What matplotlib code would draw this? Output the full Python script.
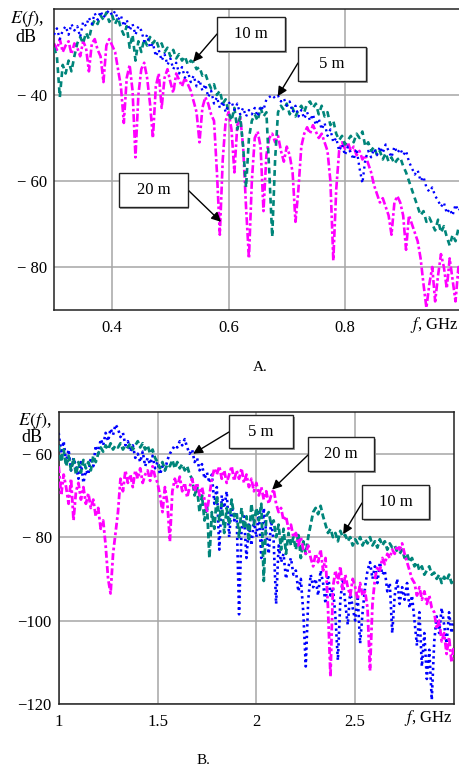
import numpy as np
import matplotlib
matplotlib.use("Agg")
import matplotlib.pyplot as plt
from matplotlib.patches import Rectangle

plt.rcParams['font.family'] = ['Liberation Serif', 'DejaVu Serif']
plt.rcParams['mathtext.fontset'] = 'stix'

W, H = 459, 767

# ---------------- data: panel A (0.3 .. 1.0 GHz) ----------------
F_TOP = (0.3, 1.0)
top_5m = [
    -26, -24.5, -27, -25, -24, -26, -23.5, -25, -24, -26.5,
    -23, -24, -22, -23.5, -21, -22.5, -20.5, -22, -21, -20.3,
    -21.5, -20.5, -22.5, -21.5, -24, -22.5, -25, -23.5, -26, -24,
    -25, -27.5, -26, -29, -28, -31, -29.5, -32, -30.5, -33,
    -31.5, -34, -32.5, -35, -33.5, -36, -34.5, -37, -35.5, -38,
    -36.5, -39, -37.5, -40.5, -39, -42, -40.5, -43, -41.5, -44,
    -42, -41.5, -43.5, -42, -44.5, -43, -45, -43.5, -44.5, -43,
    -45, -42.5, -43.5, -41, -40.5, -40, -40.8, -40.2, -41.5, -40.8,
    -42.5, -41.5, -44, -42.5, -45, -43.5, -45.5, -44, -46, -44.5,
    -47, -45.5, -48, -46.5, -49.5, -48, -51, -50, -53, -51.5,
    -54, -52, -53.5, -55, -52.5, -57, -60.5, -55, -53, -54.5,
    -52.5, -54, -52, -53.5, -51.5, -53, -54.5, -52, -53.5, -52.5,
    -54, -53, -55.5, -57, -58.5, -57.5, -60, -59, -61.5, -62.5,
    -61.5, -63.5, -64.5, -66, -65, -67.5, -66.5, -68, -65.5, -67,
    -66]
top_10m = [
    -29, -31, -40.5, -33, -35, -32, -34.5, -31, -28, -26.5,
    -28, -25.5, -27, -24, -22.5, -23.5, -21.5, -22.5, -20.8, -23,
    -21.5, -23.5, -22, -24.5, -26, -24, -29, -26, -32, -27.5,
    -30, -27, -28.5, -26.5, -28, -27, -29, -28, -30, -29,
    -31, -29.5, -31.5, -30.5, -32, -31, -33, -32, -32.5, -34,
    -33.5, -35.5, -35, -37, -38.5, -37.5, -40, -39, -42, -41,
    -44, -46, -43, -48, -45, -52, -61.5, -50, -46, -44.5,
    -46, -43, -45, -44, -58, -73, -55, -44, -42.5, -43.5,
    -42, -44.5, -43, -45, -43.5, -42.5, -44, -42, -41.5, -43,
    -42, -44.5, -42.5, -45, -44, -47, -46, -49, -50.5, -49.5,
    -51.5, -50.5, -49.5, -51, -49, -50, -48.5, -52, -51, -53,
    -52, -54, -53, -55, -53.5, -55.5, -54.5, -56, -55, -54.5,
    -56.5, -58, -60, -62, -64, -66, -68, -67, -69.5, -68.5,
    -70, -71.5, -69, -72, -70.5, -73, -75, -72.5, -74, -71,
    -73]
top_20m = [
    -28, -29.5, -27, -30, -28.5, -27.5, -30.5, -28, -29, -31,
    -27.5, -29, -34.5, -28, -27, -29.5, -31, -37, -28.5, -27,
    -28.5, -30, -34, -38, -46.5, -36, -33, -39, -54.5, -40,
    -34, -32.5, -36, -42, -50, -38, -35, -43, -36, -34,
    -37, -39.5, -35, -36.5, -38, -36, -37.5, -39, -41.5, -44,
    -51, -43, -40.5, -42, -44.5, -46, -58, -72.5, -55, -46,
    -44, -48, -58, -47, -45, -52, -66, -78, -60, -50,
    -48.5, -52, -67, -54, -50, -49, -51, -49.5, -53, -55.5,
    -52, -54, -58, -69.5, -62, -52, -49, -47.5, -49, -47,
    -48.5, -50, -49, -51, -53, -60, -78.5, -62, -53, -51,
    -52.5, -51, -53, -52, -54, -53, -55, -54, -56, -58,
    -61, -63, -65, -64, -66, -68, -72.5, -65, -63.5, -65,
    -68, -76, -68, -70, -72, -74, -78, -84, -89.5, -84,
    -80, -88, -82, -77, -80, -85, -78, -83, -88, -80,
    -85]

# ---------------- data: panel B (1 .. 3 GHz) ----------------
F_BOT = (1.0, 3.0)
bot_5m = [
    -55, -60, -57, -62, -59, -64, -61, -63,
    -66, -62, -67, -64, -65, -61, -63, -58,
    -60, -56.5, -58, -55, -57, -54, -55.5, -53,
    -54, -56, -55, -58, -57, -59.5, -58, -61,
    -60, -62, -59.5, -63, -61, -62.5, -60.5, -63.5,
    -62, -65, -63, -64, -61.5, -60, -59, -58,
    -58.5, -57, -58, -56.5, -58.5, -60, -59, -62,
    -61, -64, -62.5, -66, -64.5, -67, -65, -72,
    -68, -83, -70, -73, -69, -80, -72, -76,
    -74, -98.5, -78, -75, -85, -77, -82, -76,
    -80, -74, -85, -73, -79, -84, -76, -81,
    -96, -82, -86, -84, -90, -87, -85, -89,
    -88, -93, -90, -98, -111, -95, -89, -92,
    -90, -94, -88, -91, -96, -89, -94, -92,
    -99, -109.5, -95, -90, -96, -101, -93, -97,
    -100, -94, -105.5, -98, -92, -88, -86, -90,
    -87, -91, -86, -89, -88, -93, -91, -103,
    -94, -90, -96, -92, -95, -91, -97, -94,
    -100, -106, -98, -111, -103, -114, -107, -119,
    -105, -99, -103, -97, -101, -105.5, -98, -103,
    -100]
bot_10m = [
    -58, -62, -59, -63, -60.5, -64, -61, -65,
    -62, -64.5, -61.5, -63.5, -62, -64, -60.5, -62,
    -60, -58.5, -59.5, -58, -59, -57.5, -59, -58,
    -58.5, -57.5, -59, -58, -58.5, -57.5, -59, -58,
    -57, -58.5, -57.5, -59, -58, -60, -59, -61,
    -62, -63.5, -62, -64, -62.5, -63, -61.5, -63.5,
    -62, -63.5, -62.5, -64, -63, -65, -66, -70,
    -68, -74, -70, -76, -72, -85, -74, -78,
    -70, -76, -72, -79, -73, -77, -71, -75,
    -74, -80, -73, -78, -75, -81, -72, -77,
    -73, -76, -72, -90.5, -75, -74, -77, -76,
    -80, -77, -83, -78, -84, -79, -82, -80,
    -83, -79, -85, -81, -84, -80, -77, -74,
    -73, -74.5, -72.5, -75, -77, -79, -78, -80,
    -79, -81, -78.5, -80, -79.5, -81, -80, -82,
    -80.5, -81.5, -80, -82, -80.5, -81.5, -80, -82,
    -81, -82.5, -80.5, -82, -81, -83, -81.5, -82.5,
    -82, -83.5, -84, -83, -85, -84, -86, -85,
    -87, -86, -88, -87, -89, -88, -87, -89,
    -88.5, -90, -89, -91, -89.5, -90.5, -89, -91,
    -90]
bot_20m = [
    -63, -70, -65, -68, -72, -66, -76, -69,
    -67, -71, -68, -72, -69.5, -73, -71, -75,
    -73, -78, -76, -82, -90, -93.5, -84, -79,
    -74, -66, -69, -64, -67, -65, -68, -64,
    -66, -63.5, -67, -65, -64, -66.5, -63, -65.5,
    -67, -70, -74, -68, -72, -81, -69, -66,
    -68, -65.5, -69, -67, -70.5, -68, -66, -69,
    -67, -70, -68, -71, -74, -70, -66, -63.5,
    -65, -63, -66, -64, -67, -65, -63, -66.5,
    -64, -66, -63.5, -67, -65, -68, -66, -69,
    -67, -70, -68, -71, -69, -72, -70, -68.5,
    -72, -74, -73, -76, -75, -78, -77, -80,
    -79, -82, -80, -83, -84, -82, -85, -87,
    -84, -86, -83, -88, -85, -97, -113.5, -92,
    -88, -91, -87, -93, -89, -92, -94, -90,
    -92, -95, -91, -94, -93, -97, -112, -96,
    -90, -87, -88, -85, -86.5, -84, -85, -83,
    -84, -82, -83, -81.5, -84, -86, -88, -90,
    -91, -94, -92, -95, -93, -96, -94, -97,
    -98, -102, -100, -105, -103, -108, -104, -110,
    -106]

top_xticks = [0.4, 0.6, 0.8]
top_xticklabels = ['0.4', '0.6', '0.8']
top_yticks = [-80, -60, -40]
top_yticklabels = ['\u2212 80', '\u2212 60', '\u2212 40']
bot_xticks = [1, 1.5, 2, 2.5]
bot_xticklabels = ['1', '1.5', '2', '2.5']
bot_yticks = [-120, -100, -80, -60]
bot_yticklabels = ['\u2212120', '\u2212100', '\u2212 80', '\u2212 60']

C_BLUE = '#0000ff'
C_TEAL = '#00857a'
C_MAG = '#ff00ff'


def fx(px):
    return px / W


def fy(py):
    return 1 - py / H


fig = plt.figure(figsize=(W / 100, H / 100), dpi=100)
ax1 = fig.add_axes([fx(54), fy(310), (459 - 54) / W, (310 - 9) / H])
ax2 = fig.add_axes([fx(58.7), fy(704), (454 - 58.7) / W, (704 - 412) / H])


def style_axes(ax, xlim, ylim, xt, xtl, yt, ytl, right_spine=True):
    ax.set_xlim(*xlim)
    ax.set_ylim(*ylim)
    ax.set_xticks(xt)
    ax.set_xticklabels(xtl)
    ax.set_yticks(yt)
    ax.set_yticklabels(ytl)
    ax.tick_params(length=0, labelsize=12, pad=5)
    ax.tick_params(axis='x', pad=7)
    ax.grid(True, color='#a6a6a6', lw=1.1)
    ax.set_axisbelow(True)
    for s in ax.spines.values():
        s.set_color('#222222')
        s.set_linewidth(1.1)
    if not right_spine:
        ax.spines['right'].set_visible(False)


# panel A
x_top5 = np.linspace(F_TOP[0], F_TOP[1], len(top_5m))
x_top10 = np.linspace(F_TOP[0], F_TOP[1], len(top_10m))
x_top20 = np.linspace(F_TOP[0], F_TOP[1], len(top_20m))
ax1.plot(x_top20, top_20m, color=C_MAG, lw=1.9, dashes=(3, 1, 1, 1), zorder=2)
ax1.plot(x_top10, top_10m, color=C_TEAL, lw=1.9, dashes=(2.2, 1.6), zorder=3)
ax1.plot(x_top5, top_5m, color=C_BLUE, lw=1.7, dashes=(0.9, 1.6), zorder=4)
style_axes(ax1, (0.3, 0.996), (-90, -20), top_xticks, top_xticklabels,
           top_yticks, top_yticklabels, right_spine=False)

# panel B
x_bot5 = np.linspace(F_BOT[0], F_BOT[1], len(bot_5m))
x_bot10 = np.linspace(F_BOT[0], F_BOT[1], len(bot_10m))
x_bot20 = np.linspace(F_BOT[0], F_BOT[1], len(bot_20m))
ax2.plot(x_bot5, bot_5m, color=C_BLUE, lw=1.9, dashes=(0.9, 1.3), zorder=2)
ax2.plot(x_bot10, bot_10m, color=C_TEAL, lw=2.0, dashes=(2.2, 1.2), zorder=3)
ax2.plot(x_bot20, bot_20m, color=C_MAG, lw=2.0, dashes=(2.5, 1, 1, 1), zorder=4)
style_axes(ax2, (1.0, 3.0), (-120, -50), bot_xticks, bot_xticklabels,
           bot_yticks, bot_yticklabels)

# axis titles
for (ex, ey, dx, dy) in [(27, 19, 26, 38), (35, 421, 32, 438)]:
    fig.text(fx(ex), fy(ey), '$E(f)$,', fontsize=13, ha='center', va='center')
    fig.text(fx(dx), fy(dy), 'dB', fontsize=13, ha='center', va='center')
fig.text(fx(434), fy(325), '$f$, GHz', fontsize=12, ha='center', va='center')
fig.text(fx(428), fy(718), '$f$, GHz', fontsize=12, ha='center', va='center')

fig.text(fx(260), fy(368), 'A.', fontsize=11, ha='center', va='center')
fig.text(fx(203), fy(761), 'B.', fontsize=11, ha='center', va='center')


def label_box(ax, x0, y0, x1, y1, text, tail, tip):
    sh = Rectangle((fx(x0) + 1.5 / W, fy(y1) - 1.5 / H), (x1 - x0) / W, (y1 - y0) / H,
                   transform=fig.transFigure, facecolor='#9a9a9a', edgecolor='none',
                   zorder=9)
    fig.add_artist(sh)
    r = Rectangle((fx(x0), fy(y1)), (x1 - x0) / W, (y1 - y0) / H,
                  transform=fig.transFigure, facecolor='white', edgecolor='#222222',
                  lw=1.0, zorder=10)
    fig.add_artist(r)
    fig.text(fx((x0 + x1) / 2), fy((y0 + y1) / 2), text, fontsize=12,
             ha='center', va='center', zorder=11)
    ax.annotate('', xy=tip, xycoords='data',
                xytext=(tail[0], H - tail[1]), textcoords='figure pixels',
                arrowprops=dict(arrowstyle='-|>', color='black', lw=1.0,
                                mutation_scale=14, shrinkA=0, shrinkB=0),
                annotation_clip=False, zorder=12)


label_box(ax1, 217, 17, 285, 51, '10 m', (217, 34), (0.539, -32.3))
label_box(ax1, 298, 47, 366, 81, '5 m', (298, 63), (0.6845, -40.3))
label_box(ax1, 119, 173, 188, 207, '20 m', (188, 190), (0.587, -69.5))

label_box(ax2, 229, 415, 293, 448, '5 m', (229, 432), (1.68, -60.0))
label_box(ax2, 308, 437, 374, 471, '20 m', (308, 455), (2.08, -68.6))
label_box(ax2, 362, 485, 429, 519, '10 m', (362, 503), (2.439, -79.3))

fig.savefig('out.png', dpi=100)
